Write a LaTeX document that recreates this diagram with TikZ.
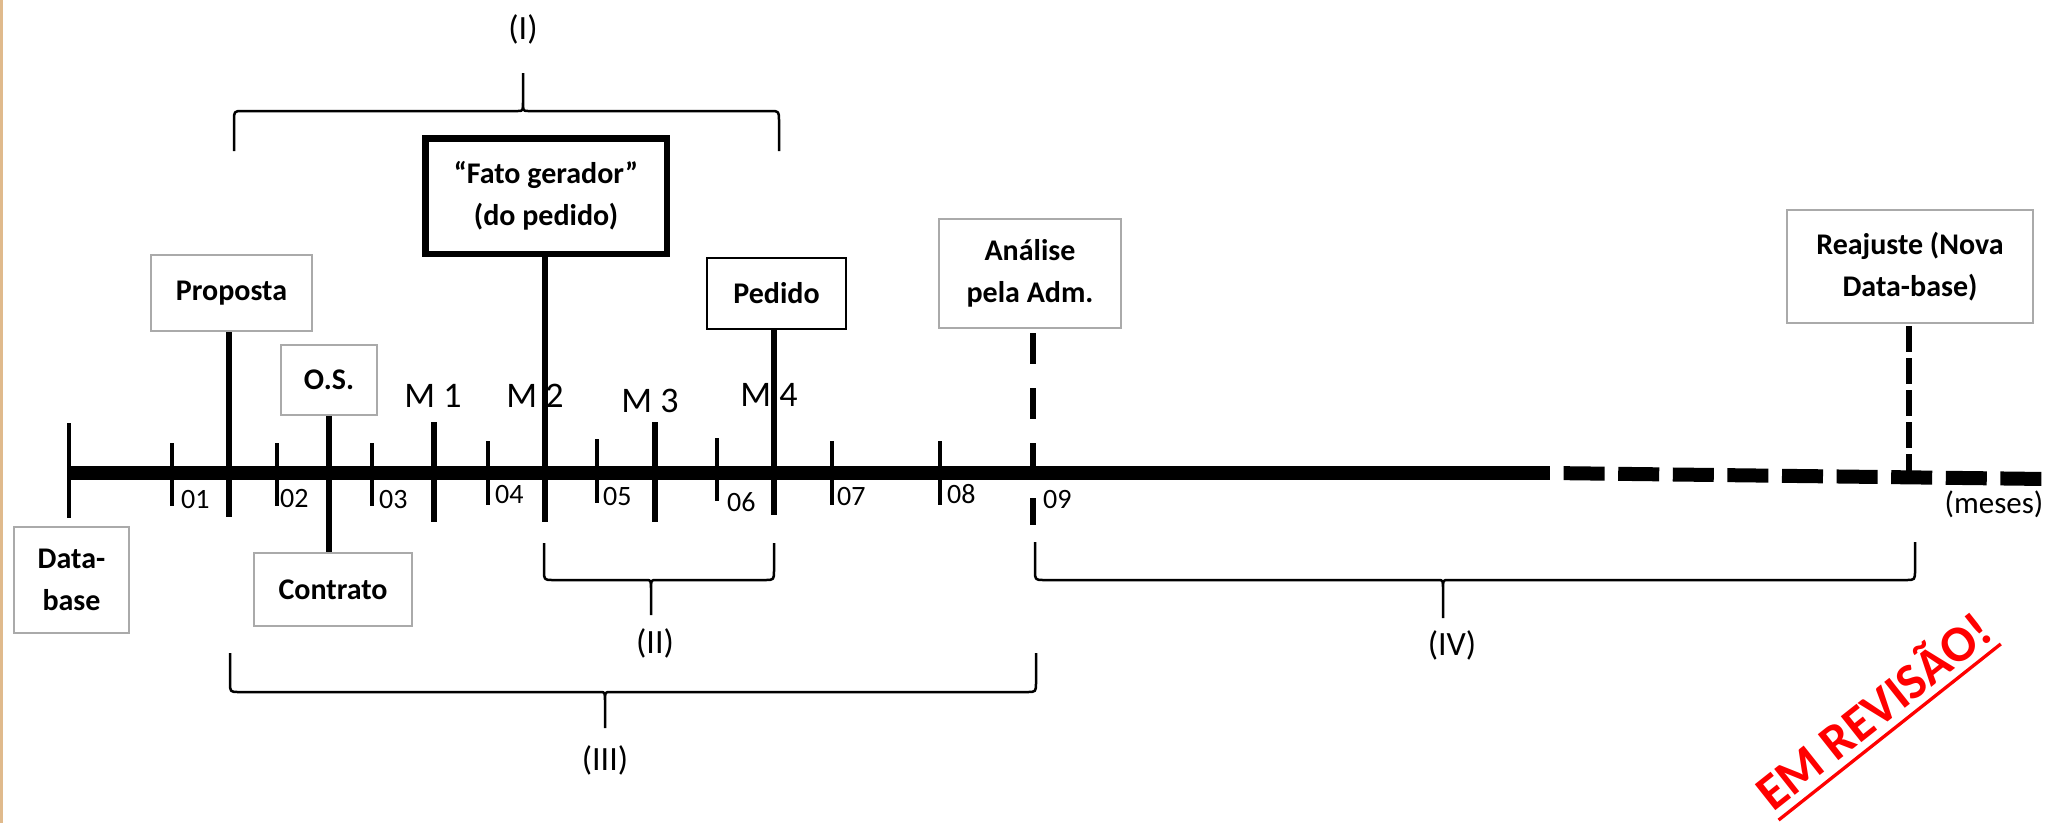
\documentclass[tikz,border=0pt]{standalone}
\usepackage{fontspec}
\setmainfont{Carlito}
\usetikzlibrary{calc}

\definecolor{boxgray}{RGB}{170,170,170}
\definecolor{pagetan}{RGB}{224,186,140}
\definecolor{stampred}{RGB}{255,0,0}

% curly brace: x-left, x-right, x-tip, y-ends, y-bar, y-tip, signed corner size
\newcommand\curlybrace[7]{%
  \draw[bracestyle] (#1,#4) -- (#1,{#5+(#7)}) .. controls (#1,#5) .. ({#1+9},#5)
    -- ({#3-5},#5) .. controls (#3,#5) .. (#3,{#5-(#7)}) -- (#3,#6)
    (#3,#6) -- (#3,{#5-(#7)}) .. controls (#3,#5) .. ({#3+5},#5)
    -- ({#2-9},#5) .. controls (#2,#5) .. (#2,{#5+(#7)}) -- (#2,#4);
}

\tikzset{
  axisline/.style={line width=14pt},
  minortick/.style={line width=4.5pt},
  majortick/.style={line width=6.5pt},
  eventline/.style={line width=6pt},
  dashevent/.style={line width=6pt, dash pattern=on 31pt off 24pt},
  dashreset/.style={line width=6pt, dash pattern=on 26pt off 6pt},
  bracestyle/.style={line width=2.5pt, line join=round},
  plainbox/.style={draw=boxgray, line width=2pt, fill=white, inner sep=0pt,
    align=center, font={\fontsize{30}{42}\selectfont\bfseries}},
  darkbox/.style={plainbox, draw=black, line width=2pt},
  boldbox/.style={plainbox, draw=black, line width=6.5pt},
  monthlabel/.style={anchor=west, inner sep=0pt, font={\fontsize{28}{28}\selectfont}},
  mlabel/.style={inner sep=0pt, font={\fontsize{36}{36}\selectfont}},
  bracelabel/.style={inner sep=0pt, font={\fontsize{34}{34}\selectfont}},
}

\begin{document}
\begin{tikzpicture}[x=1pt, y=-1pt]
  \fill[white] (0,0) rectangle (2046,823);
  \useasboundingbox (0,0) rectangle (2046,823);
  \fill[pagetan] (0,0) rectangle (2.5,823);

  % time axis: solid part, then dashed continuation
  \coordinate (ax0) at (69,473);
  \coordinate (ax1) at (1550,473);
  \coordinate (ax2) at (2046,479);
  \draw[axisline] (ax0) -- (ax1);
  \draw[axisline, dash pattern=on 41pt off 13.6pt, dash phase=41pt] (ax1) -- (ax2);

  % start tick and month ticks
  \draw[minortick] (69,423) -- (69,518);
  \foreach \x/\ya/\yb in {172/443/506, 277/443/506, 372/443/506, 488/441/505,
                          597/439/503, 717/438/501, 832/441/505, 940/441/505}
    \draw[minortick] (\x,\ya) -- (\x,\yb);

  % month numbers
  \foreach \x/\y/\t in {181/500/01, 280/498/02, 379/500/03, 495/495/04, 603/497/05,
                        727/502/06, 837/497/07, 947/494/08, 1043/500/09}
    \node[monthlabel] at (\x,\y) {\t};
  \node[monthlabel, anchor=center, font={\fontsize{31}{31}\selectfont}] (meses) at (1994,504) {(meses)};

  % milestone ticks
  \draw[majortick] (434,422) -- (434,522);
  \draw[majortick] (655,422) -- (655,522);
  \node[mlabel] (m1) at (433,396) {M 1};
  \node[mlabel] (m2) at (535,396) {M 2};
  \node[mlabel] (m3) at (650,401) {M 3};
  \node[mlabel] (m4) at (769,395) {M 4};

  % event boxes
  \node[plainbox, minimum width=115pt, minimum height=106pt] (database) at (71.5,580) {Data-\\base};
  \node[plainbox, minimum width=161pt, minimum height=76pt] (proposta) at (231.5,293) {Proposta};
  \node[plainbox, minimum width=96pt, minimum height=70pt] (os) at (329,380) {O.S.};
  \node[plainbox, minimum width=158pt, minimum height=73pt] (contrato) at (333,589.5) {Contrato};
  \node[boldbox, minimum width=241.5pt, minimum height=115.5pt] (fato) at (546,196) {“Fato gerador”\\(do pedido)};
  \node[darkbox, minimum width=139pt, minimum height=71pt] (pedido) at (776.5,293.5) {Pedido};
  \node[plainbox, minimum width=182pt, minimum height=109pt] (analise) at (1030,273.5) {Análise\\pela Adm.};
  \node[plainbox, minimum width=246pt, minimum height=113pt] (reajuste) at (1910,266.5) {Reajuste (Nova\\Data-base)};

  % event lines down to the axis
  \coordinate (propfoot) at (229,517);
  \coordinate (m2foot) at (545,522);
  \coordinate (m4foot) at (774,515);
  \coordinate (anfoot) at (1033,525);
  \coordinate (rjfoot) at (1909,473);
  \draw[eventline] (propfoot |- proposta.south) -- (propfoot);
  \draw[eventline] (os.south) -- (os.south |- contrato.north);
  \draw[eventline] (m2foot |- fato.south) -- (m2foot);
  \draw[eventline] (m4foot |- pedido.south) -- (m4foot);
  \draw[dashevent, shorten <=4pt] (anfoot |- analise.south) -- (anfoot);
  \draw[dashreset, shorten <=2pt] (rjfoot |- reajuste.south) -- (rjfoot);

  % period braces
  \curlybrace{234}{779}{523}{151}{111}{73}{10}
  \curlybrace{544}{774}{651}{543}{580}{615}{-10}
  \curlybrace{230}{1036}{605}{653}{692}{728}{-10}
  \curlybrace{1035}{1915}{1443}{542}{580}{618}{-10}
  \node[bracelabel] (pI) at (523,29) {(I)};
  \node[bracelabel] (pII) at (655,643) {(II)};
  \node[bracelabel] (pIII) at (605,760) {(III)};
  \node[bracelabel] (pIV) at (1452,645) {(IV)};

  % revision stamp
  \node[anchor=base west, inner sep=0pt, rotate=38.4, text=stampred,
        font={\fontsize{51}{51}\selectfont\bfseries}] (stamp) at (1773,813) {EM REVISÃO!};
  \draw[stampred, line width=3.3pt]
    ($(stamp.base west)!9pt!-90:(stamp.base east)$) --
    ($(stamp.base east)!9pt!90:(stamp.base west)$);
\end{tikzpicture}
\end{document}
